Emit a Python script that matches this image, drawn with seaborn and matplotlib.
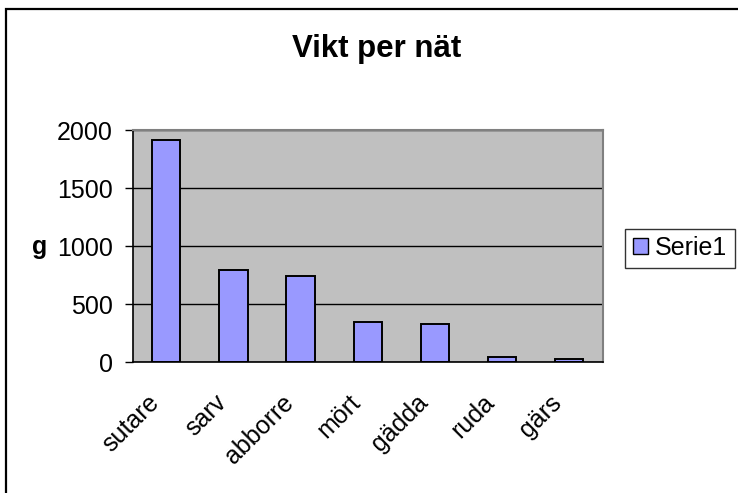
import pandas as pd
import numpy as np
import matplotlib
matplotlib.use("Agg")
import matplotlib.pyplot as plt
import matplotlib.transforms as mtransforms
from matplotlib.patches import Rectangle
from matplotlib.ticker import FixedLocator, MultipleLocator
import seaborn as sns

# data (gram per net, by species)
species = ["sutare", "sarv", "abborre", "mört", "gädda", "ruda", "gärs"]
weight = [1915, 790, 742, 342, 327, 47, 29]
series_name = "Serie1"

df = pd.DataFrame({"art": species, "vikt": weight})

sns.set_style("white")
plt.rcParams["font.family"] = ["Liberation Sans", "DejaVu Sans"]
plt.rcParams["text.color"] = "black"
plt.rcParams["axes.labelcolor"] = "black"
plt.rcParams["xtick.color"] = "black"
plt.rcParams["ytick.color"] = "black"

W, H = 738, 493
fs = 18
fig = plt.figure(figsize=(W / 100, H / 100), dpi=100)

# plot area in pixel coords -> figure fractions
left, right, top, bottom = 132.7, 602.7, 130, 362
ax = fig.add_axes([left / W, 1 - bottom / H, (right - left) / W, (bottom - top) / H])
ax.set_facecolor("#C0C0C0")

sns.barplot(data=df, x="art", y="vikt", color="#9999FF", saturation=1,
            edgecolor="black", linewidth=1.4, width=0.42, label=series_name, ax=ax)

ax.set_xlim(-0.5, len(species) - 0.5)
ax.set_ylim(0, 2000)
ax.yaxis.set_major_locator(MultipleLocator(500))
ax.yaxis.grid(True, color="black", linewidth=1)
ax.set_axisbelow(True)

# category ticks sit between bars, labels under the bars
ax.xaxis.set_minor_locator(FixedLocator(np.arange(-0.5, len(species), 1)))
ax.tick_params(axis="x", which="major", length=0, pad=10, labelsize=fs)
ax.tick_params(axis="x", which="minor", length=6, width=1, color="black", direction="out")
ax.tick_params(axis="y", length=5.5, width=1, color="black", direction="out", pad=9, labelsize=fs)
ax.tick_params(left=True, bottom=True)
shift = mtransforms.ScaledTranslation(-11 / 100, -23 / 100, fig.dpi_scale_trans)
for lab in ax.get_xticklabels():
    lab.set_rotation(45)
    lab.set_ha("right")
    lab.set_va("center")
    lab.set_rotation_mode("anchor")
    lab.set_transform(lab.get_transform() + shift)

for s in ["top", "right"]:
    ax.spines[s].set_color("#808080")
    ax.spines[s].set_linewidth(1.5)
for s in ["left", "bottom"]:
    ax.spines[s].set_color("black")
    ax.spines[s].set_linewidth(1.2)

ax.set_xlabel("")
ax.set_ylabel("g", rotation=0, fontsize=fs, fontweight="bold", va="center")
ax.yaxis.set_label_coords((40 - left) / (right - left), (bottom - 247) / (bottom - top))

fig.text(377 / W, 1 - 49 / H, "Vikt per nät", ha="center", va="center",
         fontsize=22.5, fontweight="bold")

leg = ax.legend(loc="center left", bbox_to_anchor=(625 / W, 1 - 248 / H),
                bbox_transform=fig.transFigure, frameon=True, fancybox=False,
                fontsize=fs, handlelength=0.6, handleheight=0.6, handletextpad=0.3,
                borderpad=0.3, borderaxespad=0)
leg.get_frame().set_edgecolor("black")
leg.get_frame().set_linewidth(1)
for h in leg.legend_handles:
    h.set_edgecolor("black")
    h.set_linewidth(1)

# outer chart border (only left/top visible in the reference)
fig.patches.append(Rectangle((6 / W, -0.1), 1.1, 1.1 - 9 / H, transform=fig.transFigure,
                             fill=False, edgecolor="black", linewidth=1.6))

fig.savefig("out.png", dpi=100, facecolor="white")
